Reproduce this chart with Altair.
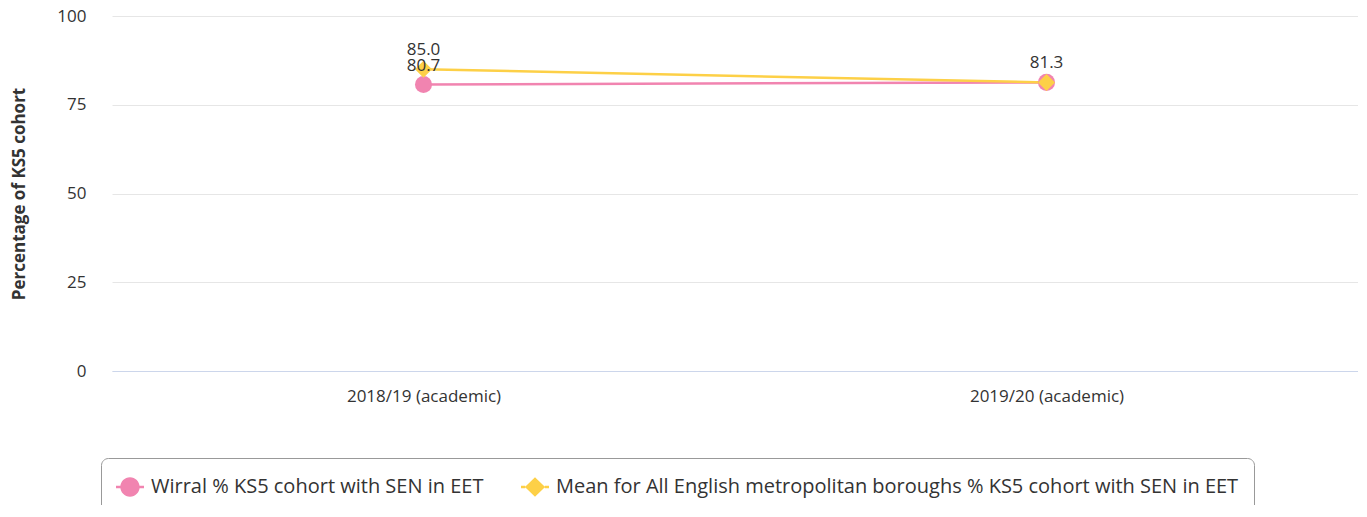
import altair as alt
import pandas as pd

periods = ["2018/19 (academic)", "2019/20 (academic)"]
series_names = [
    "Wirral % KS5 cohort with SEN in EET",
    "Mean for All English metropolitan boroughs % KS5 cohort with SEN in EET",
]
wirral_values = [80.7, 81.3]
mean_values = [85.0, 81.3]
y_ticks = [0, 25, 50, 75, 100]

colors = ["#f184b0", "#fdd047"]

rows = []
for i, p in enumerate(periods):
    rows.append({"period": p, "series": series_names[0], "value": wirral_values[i], "order": 0})
for i, p in enumerate(periods):
    rows.append({"period": p, "series": series_names[1], "value": mean_values[i], "order": 1})
df = pd.DataFrame(rows)

FONT = "Open Sans"

# legend symbol paths: line with a circle / diamond in the middle
circle_path = (
    "M-1,-0.09 H-0.66 V0.09 H-1 Z "
    "M0.66,-0.09 H1 V0.09 H0.66 Z "
    "M0.69,0 A0.69,0.69 0 1,1 -0.69,0 A0.69,0.69 0 1,1 0.69,0 Z"
)
diamond_path = (
    "M-1,-0.09 H-0.7 V0.09 H-1 Z "
    "M0.7,-0.09 H1 V0.09 H0.7 Z "
    "M0,-0.7 L0.72,0 L0,0.7 L-0.72,0 Z"
)

x_enc = alt.X(
    "period:N",
    sort=periods,
    scale=alt.Scale(type="point", padding=0.5),
    axis=alt.Axis(
        title=None,
        labelAngle=0,
        labelFont=FONT,
        labelFontSize=17,
        labelColor="#333333",
        labelPadding=17,
        domain=True,
        domainColor="#ccd6eb",
        domainWidth=1,
        ticks=False,
        grid=False,
    ),
)
y_enc = alt.Y(
    "value:Q",
    scale=alt.Scale(domain=[0, 100], nice=False, zero=True),
    axis=alt.Axis(
        values=y_ticks,
        title="Percentage of KS5 cohort",
        titleFont=FONT,
        titleFontSize=17,
        titleFontWeight="bold",
        titleColor="#333333",
        titlePadding=28,
        labelFont=FONT,
        labelFontSize=17,
        labelColor="#333333",
        labelPadding=26,
        domain=False,
        ticks=False,
        gridColor="#e6e6e6",
        gridWidth=1,
    ),
)
plain_color = alt.Color(
    "series:N", scale=alt.Scale(domain=series_names, range=colors), legend=None
)

legend_props = dict(
    title=None,
    orient="none",
    legendX=-11,
    legendY=442,
    direction="horizontal",
    padding=15,
    strokeColor="#999999",
    cornerRadius=7,
    labelFont=FONT,
    labelFontSize=20,
    labelColor="#333333",
    labelOffset=7,
    labelLimit=1000,
    columnPadding=37,
    symbolSize=784,
    symbolStrokeWidth=0,
    symbolOpacity=1,
)
legend_color = alt.Color(
    "series:N",
    sort=series_names,
    scale=alt.Scale(domain=series_names, range=colors),
    legend=alt.Legend(**legend_props),
)
legend_shape = alt.Shape(
    "series:N",
    sort=series_names,
    scale=alt.Scale(domain=series_names, range=[circle_path, diamond_path]),
    legend=alt.Legend(**legend_props),
)

base = alt.Chart(df)

lines = base.mark_line(strokeWidth=2.5).encode(
    x=x_enc, y=y_enc, color=plain_color, detail="series:N"
)

wirral_pts = base.transform_filter(alt.datum.order == 0).mark_circle(size=290, opacity=1).encode(
    x=x_enc, y=y_enc, color=plain_color
)
mean_pts = base.transform_filter(alt.datum.order == 1).mark_point(
    shape="diamond", size=289, filled=True, opacity=1
).encode(x=x_enc, y=y_enc, color=plain_color)

# invisible layer that only carries the legend (line + marker symbols)
legend_layer = base.mark_point(filled=True, opacity=0).encode(
    x=x_enc, y=y_enc, color=legend_color, shape=legend_shape
)

labels = (
    base.transform_window(rn="row_number()", groupby=["period", "value"])
    .transform_filter(alt.datum.rn == 1)
    .mark_text(font=FONT, fontSize=17, color="#333333", baseline="alphabetic", dy=-14)
    .encode(x=x_enc, y=y_enc, text=alt.Text("value:Q", format=".1f"))
)

chart = (
    alt.layer(lines, wirral_pts, mean_pts, legend_layer, labels)
    .resolve_scale(color="independent", shape="independent")
    .properties(
        width=1246,
        height=355,
        autosize=alt.AutoSizeParams(type="none"),
        padding={"left": 104, "top": 8, "right": 0, "bottom": 134},
        view=alt.ViewBackground(stroke="transparent", strokeWidth=0),
    )
    .configure_view(strokeWidth=0, stroke="transparent")
    .configure_axisY(domain=False)
    .configure_axisX(grid=False)
    .configure(background="white")
)

chart.save("out.html", embed_options={"renderer": "svg", "actions": False})
